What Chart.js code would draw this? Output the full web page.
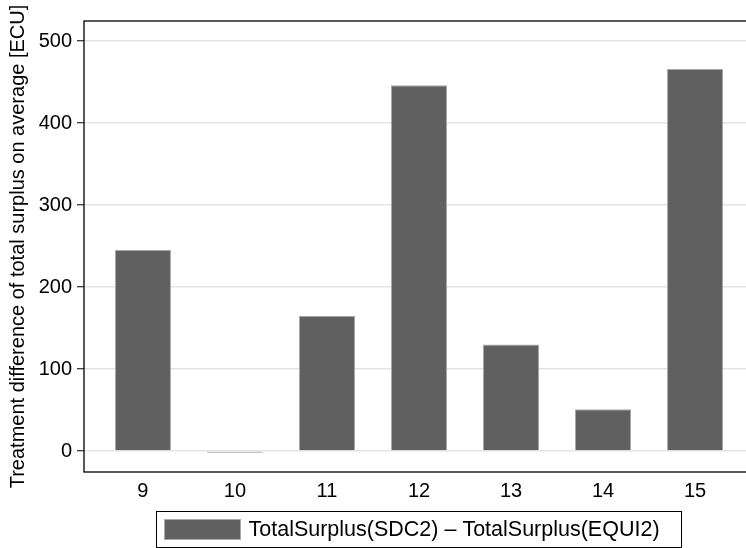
<!DOCTYPE html>
<html>
<head>
<meta charset="utf-8">
<script src="https://cdn.jsdelivr.net/npm/chart.js@4"></script>
<style>
  html, body { margin: 0; padding: 0; background: #fff; overflow: hidden; }
  #wrap { width: 760px; height: 548px; }
  canvas { display: block; }
</style>
</head>
<body>
<div id="wrap"><canvas id="chart" width="760" height="548" style="width:760px;height:548px"></canvas></div>
<script>
const categories = [9, 10, 11, 12, 13, 14, 15];
const surplusDiff = [245, -2, 165, 446, 130, 51, 466];
const yTicks = [0, 100, 200, 300, 400, 500];
const seriesLabel = "TotalSurplus(SDC2) \u2013 TotalSurplus(EQUI2)";
const yTitle = "Treatment difference of total surplus on average [ECU]";

const FONT = "'Liberation Sans', Arial, Helvetica, sans-serif";

// frame around plot + stata-like legend box
const framePlugin = {
  id: "frame",
  afterDraw(c) {
    const ctx = c.ctx;
    const a = c.chartArea;
    ctx.save();
    ctx.strokeStyle = "#000";
    ctx.lineWidth = 1.3;
    ctx.strokeRect(a.left, a.top, a.right - a.left, a.bottom - a.top);

    ctx.font = "21.5px " + FONT;
    const tw = ctx.measureText(seriesLabel).width;
    const w = 8 + 76 + 8 + tw + 22;
    const cx = (a.left + a.right) / 2;
    const x0 = Math.round(cx - w / 2) + 0.5;
    const y0 = 511.5;
    ctx.lineWidth = 1;
    ctx.strokeRect(x0, y0, w, 36);
    ctx.fillStyle = "#606060";
    ctx.fillRect(x0 + 8, y0 + 8, 76, 20);
    ctx.strokeStyle = "#a8a8a8";
    ctx.strokeRect(x0 + 8, y0 + 8, 76, 20);
    ctx.fillStyle = "#000";
    ctx.textBaseline = "middle";
    ctx.fillText(seriesLabel, x0 + 92, y0 + 18.5);
    ctx.restore();
  }
};

new Chart(document.getElementById("chart"), {
  type: "bar",
  data: {
    datasets: [{
      label: seriesLabel,
      data: categories.map((c, i) => ({ x: c, y: surplusDiff[i] })),
      backgroundColor: "#606060",
      borderColor: "#a8a8a8",
      borderWidth: 1,
      categoryPercentage: 1,
      barPercentage: 0.61
    }]
  },
  options: {
    responsive: false,
    animation: false,
    layout: { padding: { top: 21, right: 6, bottom: 0, left: 0 } },
    plugins: {
      legend: { display: false },
      tooltip: { enabled: false }
    },
    scales: {
      x: {
        type: "linear",
        offset: false,
        min: 8.36,
        max: 15.64,
        afterBuildTicks: s => { s.ticks = categories.map(v => ({ value: v })); },
        afterFit: s => { s.height = 76; },
        grid: { display: false, drawTicks: false },
        border: { display: false },
        ticks: {
          color: "#000",
          font: { family: FONT, size: 20 },
          padding: 7,
          maxRotation: 0,
          callback: v => String(v)
        }
      },
      y: {
        min: -25.6,
        max: 524.4,
        afterBuildTicks: s => { s.ticks = yTicks.map(v => ({ value: v })); },
        afterFit: s => { s.width = 84; },
        grid: {
          color: "#e4e4e4",
          lineWidth: 1.5,
          drawTicks: true,
          tickLength: 7,
          tickColor: "#000",
          tickWidth: 1
        },
        border: { display: false },
        ticks: {
          color: "#000",
          font: { family: FONT, size: 20 },
          padding: 5,
          callback: v => String(v)
        },
        title: {
          display: true,
          text: yTitle,
          color: "#000",
          font: { family: FONT, size: 20 },
          padding: { top: 6, bottom: 0 }
        }
      }
    }
  },
  plugins: [framePlugin]
});
</script>
</body>
</html>
